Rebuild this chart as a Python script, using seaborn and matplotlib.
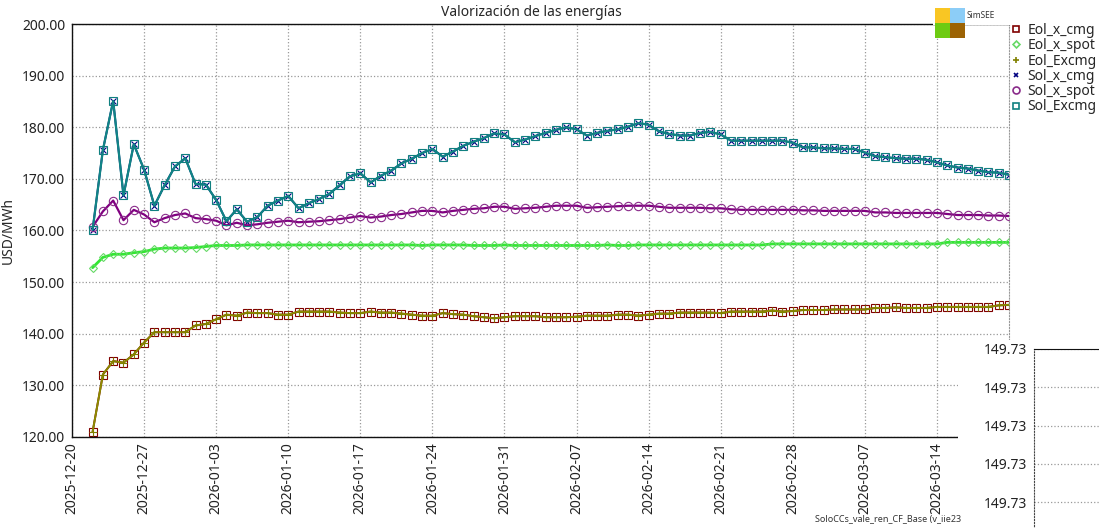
import numpy as np
import pandas as pd
import matplotlib
matplotlib.use("Agg")
import matplotlib.pyplot as plt
import matplotlib.dates as mdates
from matplotlib.lines import Line2D
from matplotlib.patches import Rectangle
import seaborn as sns

# ---------------- data ----------------
dates = pd.date_range("2025-12-22", periods=90, freq="D")

eol_x_cmg = [
    121.0, 132.1, 134.7, 134.4, 136.0, 138.3, 140.3, 140.3, 140.3, 140.3,
    141.6, 141.9, 142.8, 143.7, 143.5, 144.1, 144.0, 144.0, 143.7, 143.7,
    144.3, 144.3, 144.3, 144.3, 144.1, 144.0, 144.0, 144.3, 144.1, 144.1,
    143.9, 143.7, 143.5, 143.5, 144.0, 143.8, 143.7, 143.4, 143.2, 143.0,
    143.2, 143.4, 143.4, 143.4, 143.2, 143.2, 143.2, 143.3, 143.5, 143.5,
    143.5, 143.7, 143.7, 143.5, 143.7, 143.9, 143.9, 144.1, 144.1, 144.1,
    144.1, 144.0, 144.3, 144.3, 144.3, 144.3, 144.5, 144.3, 144.4, 144.6,
    144.6, 144.6, 144.7, 144.7, 144.7, 144.7, 145.0, 145.0, 145.1, 145.0,
    145.0, 145.0, 145.2, 145.2, 145.2, 145.2, 145.2, 145.2, 145.5, 145.6,
]
eol_excmg = list(eol_x_cmg)

eol_x_spot = [
    152.8, 154.8, 155.4, 155.4, 155.7, 155.9, 156.4, 156.6, 156.6, 156.6,
    156.7, 156.9, 157.1, 157.1, 157.1, 157.2, 157.2, 157.2, 157.2, 157.2,
    157.2, 157.2, 157.2, 157.2, 157.2, 157.2, 157.2, 157.2, 157.2, 157.2,
    157.2, 157.2, 157.1, 157.2, 157.2, 157.2, 157.2, 157.1, 157.1, 157.1,
    157.2, 157.1, 157.1, 157.1, 157.1, 157.1, 157.1, 157.1, 157.1, 157.1,
    157.2, 157.1, 157.1, 157.2, 157.2, 157.2, 157.2, 157.2, 157.2, 157.2,
    157.2, 157.2, 157.2, 157.2, 157.2, 157.2, 157.4, 157.4, 157.4, 157.4,
    157.4, 157.4, 157.4, 157.4, 157.4, 157.4, 157.4, 157.4, 157.4, 157.4,
    157.4, 157.4, 157.4, 157.7, 157.7, 157.7, 157.7, 157.7, 157.7, 157.7,
]

sol_x_spot = [
    160.7, 163.7, 165.8, 162.0, 164.0, 163.1, 161.6, 162.4, 163.0, 163.3,
    162.4, 162.2, 161.9, 161.0, 161.5, 161.0, 161.2, 161.5, 161.7, 161.9,
    161.6, 161.7, 161.8, 162.0, 162.2, 162.5, 162.8, 162.5, 162.7, 163.0,
    163.2, 163.5, 163.8, 163.8, 163.5, 163.8, 164.0, 164.2, 164.3, 164.6,
    164.6, 164.2, 164.3, 164.4, 164.6, 164.8, 164.8, 164.8, 164.4, 164.5,
    164.6, 164.7, 164.8, 164.8, 164.8, 164.6, 164.4, 164.4, 164.4, 164.4,
    164.3, 164.3, 164.1, 164.0, 164.0, 164.0, 164.0, 164.0, 164.0, 163.9,
    163.9, 163.8, 163.8, 163.8, 163.8, 163.8, 163.5, 163.5, 163.4, 163.4,
    163.4, 163.4, 163.4, 163.2, 163.0, 163.0, 163.0, 162.9, 162.9, 162.8,
]

sol_excmg = [
    160.1, 175.6, 185.1, 166.8, 176.7, 171.8, 164.8, 168.8, 172.4, 174.0,
    169.0, 168.9, 165.9, 161.8, 164.1, 161.7, 162.6, 164.8, 165.8, 166.7,
    164.3, 165.3, 166.1, 167.1, 168.8, 170.5, 171.1, 169.3, 170.6, 171.6,
    173.0, 173.9, 175.0, 175.8, 174.3, 175.3, 176.4, 177.2, 177.9, 178.8,
    178.6, 177.1, 177.6, 178.3, 178.9, 179.5, 180.0, 179.6, 178.4, 178.9,
    179.3, 179.6, 180.1, 180.8, 180.5, 179.2, 178.7, 178.4, 178.4, 178.9,
    179.1, 178.6, 177.4, 177.4, 177.4, 177.4, 177.4, 177.4, 177.0, 176.1,
    176.1, 175.9, 175.9, 175.8, 175.8, 175.1, 174.4, 174.2, 174.0, 173.9,
    173.9, 173.7, 173.2, 172.6, 172.2, 172.0, 171.6, 171.3, 171.2, 170.8,
]
sol_x_cmg = list(sol_excmg)

series_names = ["Eol_x_cmg", "Eol_x_spot", "Eol_Excmg", "Sol_x_cmg", "Sol_x_spot", "Sol_Excmg"]
y_ticks = [120, 130, 140, 150, 160, 170, 180, 190, 200]
inset_labels = ["149.73", "149.73", "149.73", "149.73", "149.73"]

# ---------------- styles ----------------
styles = {
    "Eol_x_cmg": dict(color="#800000", marker="s", ms=5.5, mfc="none", mec="#800000", lw=1.4),
    "Eol_x_spot": dict(color="#33e633", marker="D", ms=4.5, mfc="none", mec="#66d966", lw=2.0),
    "Eol_Excmg": dict(color="#8c8c00", marker="+", ms=5.5, mfc="none", mec="#808000", lw=1.4),
    "Sol_x_cmg": dict(color="#000080", marker="x", ms=4.5, mfc="none", mec="#000080", lw=1.4),
    "Sol_x_spot": dict(color="#800080", marker="o", ms=6, mfc="none", mec="#8a2b8a", lw=1.6),
    "Sol_Excmg": dict(color="#118585", marker="s", ms=6, mfc="none", mec="#108080", lw=1.6),
}
values = {
    "Eol_x_cmg": eol_x_cmg, "Eol_x_spot": eol_x_spot, "Eol_Excmg": eol_excmg,
    "Sol_x_cmg": sol_x_cmg, "Sol_x_spot": sol_x_spot, "Sol_Excmg": sol_excmg,
}

sns.set_style("white")
plt.rcParams["font.family"] = ["Noto Sans", "DejaVu Sans"]

W, H = 1099, 528


def fx(x):
    return x / W


def fy(y):
    return 1 - y / H


fig = plt.figure(figsize=(W / 100, H / 100), dpi=100)
ax = fig.add_axes([fx(72), fy(437), (1009 - 72) / W, (437 - 24) / H])

for name in series_names:
    st = styles[name]
    sns.lineplot(x=dates, y=values[name], ax=ax, color=st["color"], linewidth=st["lw"],
                 marker=st["marker"], markersize=st["ms"], markerfacecolor=st["mfc"],
                 markeredgecolor=st["mec"], markeredgewidth=0.8)

ax.set_ylim(120, 200)
ax.set_yticks(y_ticks)
ax.yaxis.set_major_formatter(matplotlib.ticker.FormatStrFormatter("%.2f"))
ax.set_xlim(pd.Timestamp("2025-12-20"), pd.Timestamp("2026-03-21"))
xt = pd.date_range("2025-12-20", "2026-03-14", freq="7D")
ax.set_xticks(xt)
ax.xaxis.set_major_formatter(mdates.DateFormatter("%Y-%m-%d"))
ax.tick_params(axis="x", rotation=90, length=0, pad=4, labelsize=10, colors="#222222")
ax.tick_params(axis="y", length=0, pad=5, labelsize=10, colors="#222222")
ax.grid(True, linestyle=":", color="#999999", linewidth=0.9)
ax.set_xlabel("")
ax.set_ylabel("USD/MWh", fontsize=10, labelpad=4)
for s in ["top", "left", "bottom"]:
    ax.spines[s].set_color("#111111")
    ax.spines[s].set_linewidth(1.0)
ax.spines["right"].set_color("#999999")
ax.spines["right"].set_linestyle(":")

fig.text(fx(531), fy(12), "Valorización de las energías", ha="center", va="center", fontsize=10)

# legend
handles = [Line2D([], [], linestyle="none", marker=styles[n]["marker"], markersize=styles[n]["ms"] - 1,
                  markerfacecolor="none", markeredgecolor=styles[n]["mec"], markeredgewidth=1.2)
           for n in series_names]
fig.legend(handles, series_names, loc="upper left", bbox_to_anchor=(fx(1012), fy(23)),
           frameon=False, fontsize=10, handlelength=0.6, handletextpad=0.5,
           labelspacing=0.02, borderaxespad=0, borderpad=0)

# SimSEE logo
fig.add_artist(Rectangle((fx(933), fy(25)), (1011 - 933) / W, 21 / H, transform=fig.transFigure,
                         facecolor="white", edgecolor="none", zorder=3))
for (x0, y0, c) in [(935, 8, "#f9c623"), (950, 8, "#8ccdf7"), (935, 23, "#6ecb12"), (950, 23, "#9c6304")]:
    fig.add_artist(Rectangle((fx(x0), fy(y0 + 15)), 15 / W, 15 / H, transform=fig.transFigure,
                             facecolor=c, edgecolor="none", zorder=4))
fig.text(fx(967), fy(15), "SimSEE", fontsize=6, va="center", ha="left", zorder=5, color="#333333")

fig.text(fx(815), fy(519), "SoloCCs_vale_ren_CF_Base (v_iie23", fontsize=6.5, va="center",
         ha="left", color="#333333")

# second panel, cut off at the corner
fig.add_artist(Rectangle((fx(958), 0), (W - 958) / W, (H - 340) / H, transform=fig.transFigure,
                         facecolor="white", edgecolor="none", zorder=3))
ax2 = fig.add_axes([fx(1034), fy(600), 200 / W, (600 - 349) / H], zorder=6)
ax2.set_ylim(-6.55, 0)
ax2.set_yticks([0, -1, -2, -3, -4])
ax2.set_yticklabels(inset_labels)
ax2.set_xticks([])
ax2.tick_params(axis="y", length=0, pad=5, labelsize=10, colors="#222222")
ax2.grid(True, axis="y", linestyle=":", color="#999999", linewidth=0.9)
ax2.spines["top"].set_color("#111111")
ax2.spines["left"].set_color("#444444")
ax2.spines["left"].set_linestyle(":")

fig.savefig("out.png", dpi=100)
